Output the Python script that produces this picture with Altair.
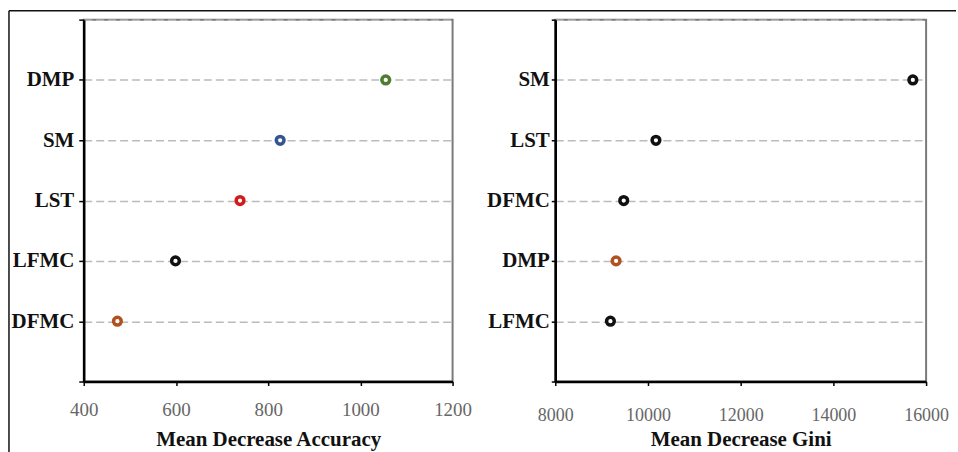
import altair as alt
import pandas as pd

# Left panel: Mean Decrease Accuracy (top to bottom)
acc_vars = ["DMP", "SM", "LST", "LFMC", "DFMC"]
acc_vals = [1055, 826, 739, 599, 473]
acc_colors = ["#4e7d2f", "#34558f", "#d11a1a", "#111111", "#b0521f"]
acc_ticks = [400, 600, 800, 1000, 1200]

# Right panel: Mean Decrease Gini (top to bottom)
gini_vars = ["SM", "LST", "DFMC", "DMP", "LFMC"]
gini_vals = [15714, 10172, 9477, 9312, 9190]
gini_colors = ["#111111", "#111111", "#111111", "#b0521f", "#111111"]
gini_ticks = [8000, 10000, 12000, 14000, 16000]

SERIF = "Liberation Serif"
H = 363


def panel(vars_, vals, colors, ticks, title, label_pad, label_size, ytick, ypad, width):
    n = len(vars_)
    df = pd.DataFrame({"var": vars_, "val": vals, "color": colors,
                       "pos": [n - i for i in range(n)]})
    expr = " : ".join(f"datum.value == {n - i} ? '{v}'" for i, v in enumerate(vars_)) + " : ''"
    pts = alt.Chart(df).mark_point(
        shape="circle", filled=True, fill="white", fillOpacity=1, opacity=1,
        size=60, strokeWidth=3.5
    ).encode(
        x=alt.X("val:Q",
                scale=alt.Scale(domain=[ticks[0], ticks[-1]], nice=False, zero=False),
                axis=alt.Axis(values=ticks, title=title, grid=False, format="d",
                              domainColor="black", domainWidth=2.5,
                              tickColor="black", tickSize=4, tickWidth=1.5,
                              labelColor="#666", labelFont=SERIF, labelFontSize=label_size,
                              labelPadding=label_pad, labelFlush=False,
                              titleFont=SERIF, titleFontSize=21, titleFontWeight="bold",
                              titleColor="#111", titleY=64, titleBaseline="alphabetic")),
        y=alt.Y("pos:Q",
                scale=alt.Scale(domain=[0, n + 1], nice=False, zero=False),
                axis=alt.Axis(values=list(range(n + 2)), labelExpr=expr, title=None,
                              grid=True, gridColor="#bbbbbb", gridDash=[8, 4], gridWidth=1.5,
                              domainColor="black", domainWidth=2.5,
                              tickColor="black", tickSize=ytick, tickWidth=1.5,
                              labelPadding=ypad, labelFont=SERIF, labelFontSize=21,
                              labelFontWeight="bold", labelColor="#111")),
        stroke=alt.Stroke("color:N", scale=None),
    )
    return pts.properties(width=width, height=H)


left = panel(acc_vars, acc_vals, acc_colors, acc_ticks, "Mean Decrease Accuracy", 15, 19, 5, 5, 370)
right = panel(gini_vars, gini_vals, gini_colors, gini_ticks, "Mean Decrease Gini", 21, 18, 4, 2, 372)

frame_df = pd.DataFrame({"k": [0]})
top_line = alt.Chart(frame_df).mark_rule(color="#111", strokeWidth=1.5).encode(
    x=alt.value(-75), x2=alt.value(875), y=alt.value(-9))
left_line = alt.Chart(frame_df).mark_rule(color="#111", strokeWidth=1.5).encode(
    x=alt.value(-75), y=alt.value(-9), y2=alt.value(434))

left_layer = alt.layer(top_line, left_line, left)

chart = alt.hconcat(left_layer, right, spacing=103, bounds="flush").properties(
    padding={"left": 7, "top": 8, "right": 0, "bottom": 0},
    background="white",
).configure_view(stroke="#7a7a7a", strokeWidth=2)

chart.save("out.html", embed_options={"renderer": "svg", "actions": False})
